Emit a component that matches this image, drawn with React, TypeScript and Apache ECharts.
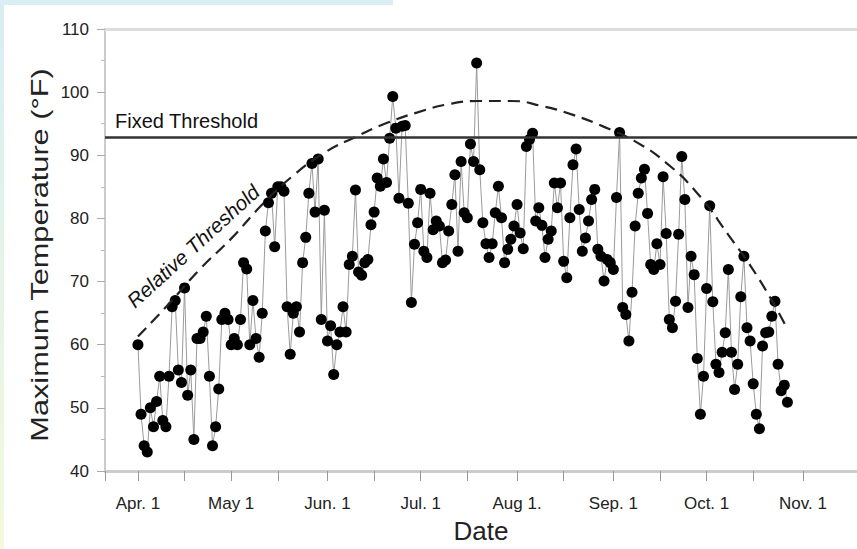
import React, { useEffect, useRef } from 'react';
import * as echarts from 'echarts';

// Daily maximum temperature (°F), one value per day starting Apr. 1
const temps: number[] = [
  60, 49, 44, 43, 50, 47, 51, 55, 48, 47, 55, 66, 67, 56, 54, 69, 52, 56, 45, 61,
  61, 62, 64.5, 55, 44, 47, 53, 64, 65, 64, 60, 61, 60, 64, 73, 72, 60, 67, 61, 58,
  65, 78, 82.5, 84, 75.5, 85, 85, 84.3, 66, 58.5, 65, 66, 62, 73, 77, 84, 88.7, 81, 89.4, 64,
  81.3, 60.6, 63, 55.3, 60, 62, 66, 62, 72.7, 74, 84.5, 71.5, 71, 73, 73.5, 79, 81, 86.4, 85.1, 89.4,
  85.7, 92.7, 99.3, 94.3, 83.2, 94.6, 94.7, 82.4, 66.7, 75.9, 79.3, 84.6, 74.8, 73.8, 84, 78.2, 79.6, 78.8, 73, 73.4,
  78, 82.2, 86.9, 74.8, 89, 80.9, 80.1, 91.8, 89, 104.6, 87.7, 79.3, 76, 73.8, 76, 80.9, 85.1, 80.1, 73, 75.1,
  76.7, 78.8, 82.2, 77.7, 75.2, 91.4, 92.5, 93.5, 79.6, 81.7, 78.9, 73.8, 76.7, 78, 85.6, 81.7, 85.6, 73.2, 70.6, 80.1,
  88.5, 91, 81.4, 74.8, 76.9, 79.6, 83, 84.6, 75.1, 74, 70.1, 73.5, 73, 71.9, 83.3, 93.6, 65.9, 64.8, 60.6, 68.3,
  78.8, 84, 86.4, 87.8, 80.8, 72.7, 71.9, 76, 72.7, 86.6, 77.6, 64, 62.7, 66.9, 77.5, 89.8, 83, 65.9, 74, 71.1,
  57.8, 49, 55, 68.9, 82, 66.8, 56.9, 55.6, 58.8, 61.9, 71.9, 58.8, 52.9, 56.9, 67.6, 74, 62.7, 60.6, 53.8, 49,
  46.7, 59.8, 61.9, 62, 64.5, 66.9, 56.9, 52.7, 53.6, 50.9,
];

// Relative threshold curve (days since Apr. 1, °F)
const relDays: number[] = [0, 10, 20, 30, 40, 50, 60, 70, 80, 90, 100, 110, 120, 130, 140, 150, 160, 170, 180, 190, 200, 209];
const relTemps: number[] = [61.3, 66.5, 72.0, 76.8, 82.2, 86.8, 90.4, 92.9, 95.1, 96.8, 98.1, 98.6, 98.6, 97.8, 96.4, 94.5, 92.2, 88.8, 84.0, 77.4, 70.3, 62.5];

const fixedThreshold = 92.8;

// X axis ticks (days since Apr. 1)
const monthTicks: number[] = [0, 30, 61, 91, 122, 153, 183, 214];
const monthLabels: string[] = ['Apr. 1', 'May 1', 'Jun. 1', 'Jul. 1', 'Aug 1.', 'Sep. 1', 'Oct. 1', 'Nov. 1'];
const midTicks: number[] = [15, 45, 76, 106, 137, 168, 198];

const X_MIN = -10.6;
const X_MAX = 231.4;
const FONT = '"Liberation Sans", Arial, Helvetica, sans-serif';

export default function App() {
  const ref = useRef<HTMLDivElement>(null);

  useEffect(() => {
    document.body.style.margin = '0';
    if (!ref.current) return;
    const chart = echarts.init(ref.current, undefined, { renderer: 'svg' });

    const tickValues = [X_MIN, ...monthTicks, ...midTicks].sort((a, b) => a - b);

    chart.setOption({
      animation: false,
      backgroundColor: '#ffffff',
      textStyle: { fontFamily: FONT },
      grid: { left: 105, right: 0, top: 29, bottom: 77, containLabel: false },
      xAxis: [
        {
          type: 'value',
          min: X_MIN,
          max: X_MAX,
          axisLine: { show: true, onZero: false, lineStyle: { color: '#cccccc', width: 3 } },
          axisTick: { show: true, length: 10, lineStyle: { color: '#999999', width: 1 }, customValues: tickValues },
          axisLabel: {
            show: true,
            customValues: monthTicks,
            formatter: (v: number) => {
              const i = monthTicks.indexOf(v);
              return i >= 0 ? monthLabels[i] : '';
            },
            fontSize: 17,
            color: '#222222',
            margin: 24,
            fontFamily: FONT,
          },
          splitLine: { show: false },
          name: 'Date',
          nameLocation: 'middle',
          nameGap: 47,
          nameTextStyle: { fontSize: 26, color: '#222222', fontFamily: FONT },
        },
        {
          type: 'value',
          position: 'top',
          min: X_MIN,
          max: X_MAX,
          axisLine: { show: true, onZero: false, lineStyle: { color: '#dddddd', width: 3 } },
          axisTick: { show: false },
          axisLabel: { show: false },
          splitLine: { show: false },
        },
      ],
      yAxis: {
        type: 'value',
        min: 40,
        max: 110,
        interval: 10,
        axisLine: { show: true, onZero: false, lineStyle: { color: '#bbbbbb', width: 1.5 } },
        axisTick: { show: true, length: 8, lineStyle: { color: '#aaaaaa', width: 1 } },
        minorTick: { show: true, splitNumber: 2, length: 4, lineStyle: { color: '#bbbbbb', width: 1 } },
        splitLine: { show: false },
        axisLabel: { fontSize: 17, color: '#222222', margin: 16, fontFamily: FONT },
      },
      series: [
        {
          type: 'line',
          data: temps.map((t, i) => [i, t]),
          symbol: 'circle',
          symbolSize: 11,
          itemStyle: { color: '#000000' },
          lineStyle: { color: '#9a9a9a', width: 1 },
          z: 3,
          markLine: {
            silent: true,
            symbol: ['none', 'none'],
            data: [{ yAxis: fixedThreshold }],
            lineStyle: { color: '#333333', width: 2.5, type: 'solid' },
            label: {
              show: true,
              position: 'insideStartTop',
              formatter: 'Fixed Threshold',
              fontSize: 20,
              color: '#111111',
              fontFamily: FONT,
              distance: [10, 7],
            },
          },
        },
        {
          type: 'line',
          data: relDays.map((d, i) => [d, relTemps[i]]),
          smooth: true,
          symbol: 'none',
          lineStyle: { color: '#222222', width: 2.2, type: [12, 7] },
          z: 4,
        },
      ],
      graphic: [
        {
          type: 'rect',
          shape: { x: 0, y: 0, width: 4, height: 549 },
          style: {
            fill: new echarts.graphic.LinearGradient(0, 0, 0, 1, [
              { offset: 0, color: '#d6eef3' },
              { offset: 1, color: '#f3f9dc' },
            ]),
          },
          silent: true,
        },
        {
          type: 'rect',
          shape: { x: 0, y: 0, width: 393, height: 5 },
          style: { fill: '#d9eff3' },
          silent: true,
        },
        {
          type: 'text',
          x: 40,
          y: 255,
          rotation: Math.PI / 2,
          scaleX: 1.28,
          silent: true,
          style: {
            text: 'Maximum Temperature (°F)',
            fontSize: 24,
            fontFamily: FONT,
            fill: '#222222',
            align: 'center',
            verticalAlign: 'middle',
          },
        },
        {
          type: 'text',
          x: 193,
          y: 246,
          rotation: 0.74,
          silent: true,
          style: {
            text: 'Relative Threshold',
            fontSize: 20.5,
            fontStyle: 'italic',
            fontFamily: FONT,
            fill: '#111111',
            align: 'center',
            verticalAlign: 'middle',
          },
        },
      ],
    });

    return () => chart.dispose();
  }, []);

  return <div ref={ref} style={{ width: 857, height: 549 }} />;
}
